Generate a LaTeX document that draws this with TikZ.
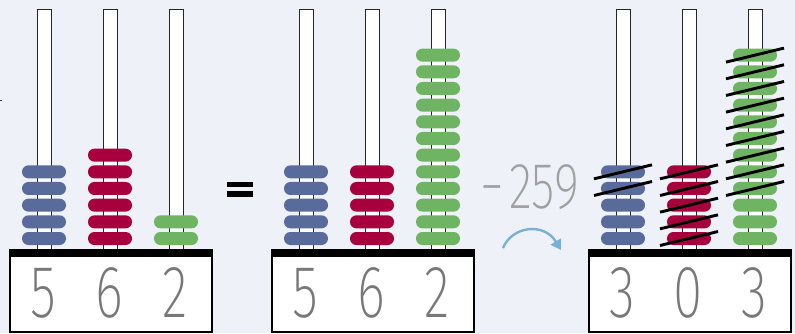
\documentclass[tikz,border=0pt]{standalone}
\usepackage{fontspec}
\usetikzlibrary{arrows.meta}
\newfontfamily\digitfont{Fira Sans ExtraLight}

\definecolor{bg}{RGB}{238,242,248}
\definecolor{beadblue}{RGB}{89,107,155}
\definecolor{beadred}{RGB}{168,0,60}
\definecolor{beadgreen}{RGB}{110,180,98}
\definecolor{digitgray}{RGB}{120,120,120}
\definecolor{opgray}{RGB}{160,160,160}
\definecolor{arrowblue}{RGB}{122,176,212}

\tikzset{
  rod/.style={draw=black!85, fill=white, line width=0.9pt, minimum width=14pt,
    minimum height=240.5pt, inner sep=0pt},
  basebox/.style={draw=black, fill=white, line width=1.2pt, minimum width=202pt,
    minimum height=82pt, inner sep=0pt},
  basebar/.style={fill=black, minimum width=202pt, minimum height=7pt, inner sep=0pt},
  bead/.style={minimum width=44pt, minimum height=13pt, inner sep=0pt,
    rounded corners=6.4pt},
  digit/.style={text=digitgray, inner sep=0pt,
    font=\digitfont\fontsize{74}{74}\selectfont},
  oplabel/.style={text=opgray, inner sep=0pt,
    font=\digitfont\fontsize{65}{65}\selectfont},
  strike/.style={draw=black, line width=2.9pt},
  eqbar/.style={fill=black, minimum width=26pt, minimum height=5.6pt, inner sep=0pt},
  arrowline/.style={draw=arrowblue, line width=2.4pt,
    -{Triangle[length=10pt,width=12pt]}},
}

% one abacus: name, left edge of the base, digits shown on the base
\newcommand\abacusframe[5]{%
  \foreach \k/\d in {1/#3,2/#4,3/#5}{%
    \node[rod] (#1-rod\k) at ({#2+34+(\k-1)*66},129.75) {};
  }
  \node[basebox] (#1-box) at ({#2+101},291) {};
  \node[basebar] (#1-bar) at ({#2+101},253.5) {};
  \foreach \k/\d in {1/#3,2/#4,3/#5}{%
    \node[digit] (#1-digit\k) at ({#2+33+(\k-1)*66},293)
      {\scalebox{0.72}[1]{\d}};
  }
}
% a stack of beads on rod #2 of abacus #1: count #3, colour #4
\newcommand\beadstack[4]{%
  \foreach \i in {1,...,#3}{%
    \node[bead, fill=#4] (#1-bead#2-\i) at (#1-rod#2 |- 0,{238.5-(\i-1)*16.67}) {};
  }
}
% strike out beads #3 to #4 of rod #2 on abacus #1
\newcommand\strikebeads[4]{%
  \foreach \i in {#3,...,#4}{%
    \draw[strike] ([shift={(-29,7)}]#1-bead#2-\i.center)
      -- ([shift={(29,-7)}]#1-bead#2-\i.center);
  }
}

\begin{document}
\begin{tikzpicture}[x=1pt,y=-1pt]
  \fill[bg] (0,0) rectangle (795,333);
  \useasboundingbox (0,0) rectangle (795,333);

  % small tick at the left border
  \draw[black!75, line width=0.8pt] (0,100) -- (1.6,100);

  % starting number
  \abacusframe{A}{10}{5}{6}{2}
  \beadstack{A}{1}{5}{beadblue}
  \beadstack{A}{2}{6}{beadred}
  \beadstack{A}{3}{2}{beadgreen}

  % equals sign
  \node[eqbar] (eqtop) at (240,184.5) {};
  \node[eqbar] (eqbot) at (240,194) {};

  % regrouped number
  \abacusframe{B}{272}{5}{6}{2}
  \beadstack{B}{1}{5}{beadblue}
  \beadstack{B}{2}{5}{beadred}
  \beadstack{B}{3}{12}{beadgreen}

  % subtraction step
  \node[oplabel] (op) at (530,187.5)
    {\scalebox{0.74}[1]{−\hspace{6pt}259}};
  \coordinate (arrowstart) at (503,248);
  \coordinate (arrowend) at (561,250);
  \draw[arrowline] (arrowstart) .. controls (512,226) and (544,222) .. (arrowend);

  % result
  \abacusframe{C}{589}{3}{0}{3}
  \beadstack{C}{1}{5}{beadblue}
  \beadstack{C}{2}{5}{beadred}
  \beadstack{C}{3}{12}{beadgreen}
  \strikebeads{C}{1}{4}{5}
  \strikebeads{C}{2}{1}{5}
  \strikebeads{C}{3}{4}{12}
\end{tikzpicture}
\end{document}
